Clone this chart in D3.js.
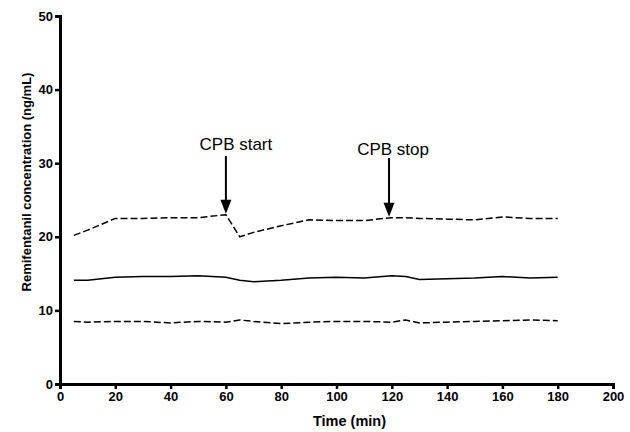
<!DOCTYPE html>
<html>
<head>
<meta charset="utf-8">
<script src="https://cdnjs.cloudflare.com/ajax/libs/d3/7.8.5/d3.min.js"></script>
<style>
  body { margin: 0; background: #fff; }
  text { font-family: "Liberation Sans", Arial, sans-serif; }
</style>
</head>
<body>
<div id="chart"></div>
<script>
// sampling times (min)
var times = [5, 10, 20, 30, 40, 50, 60, 65, 70, 80, 90, 100, 110, 120, 125, 130, 140, 150, 160, 170, 180];
// upper dashed, median solid, lower dashed (ng/mL)
var upper  = [20.2, 20.9, 22.5, 22.5, 22.6, 22.6, 23.0, 20.0, 20.6, 21.5, 22.3, 22.2, 22.2, 22.6, 22.6, 22.5, 22.4, 22.3, 22.7, 22.5, 22.5];
var median = [14.1, 14.1, 14.5, 14.6, 14.6, 14.7, 14.5, 14.1, 13.9, 14.1, 14.4, 14.5, 14.4, 14.7, 14.6, 14.2, 14.3, 14.4, 14.6, 14.4, 14.5];
var lower  = [8.5, 8.4, 8.5, 8.5, 8.3, 8.5, 8.4, 8.7, 8.5, 8.2, 8.4, 8.5, 8.5, 8.4, 8.7, 8.3, 8.4, 8.5, 8.6, 8.7, 8.6];
var xTicks = [0, 20, 40, 60, 80, 100, 120, 140, 160, 180, 200];
var yTicks = [0, 10, 20, 30, 40, 50];
var events = [{label: "CPB start", t: 60, top: 156, textY: 150, dx: 10},
              {label: "CPB stop",  t: 119, top: 158, textY: 155, dx: 4}];

var margin = {top: 16, right: 17, bottom: 48, left: 60},
    width = 630 - margin.left - margin.right,
    height = 432 - margin.top - margin.bottom;

var svg = d3.select("#chart").append("svg")
    .attr("width", 630).attr("height", 432)
  .append("g")
    .attr("transform", "translate(" + margin.left + "," + margin.top + ")");

var x = d3.scaleLinear().domain([0, 200]).range([0, width]);
var y = d3.scaleLinear().domain([0, 50]).range([height, 0]);

// lines
var line = d3.line().x((d, i) => x(times[i])).y(d => y(d));
[[upper, "7,3"], [median, null], [lower, "7,3"]].forEach(s => {
  svg.append("path")
    .datum(s[0])
    .attr("d", line)
    .attr("fill", "none")
    .attr("stroke", "#000")
    .attr("stroke-width", 1.5)
    .attr("stroke-dasharray", s[1]);
});

// axes
var xAxis = svg.append("g")
    .attr("transform", "translate(0," + height + ")")
    .call(d3.axisBottom(x).tickValues(xTicks).tickSize(5).tickPadding(3));
var yAxis = svg.append("g")
    .call(d3.axisLeft(y).tickValues(yTicks).tickSize(5).tickPadding(2));
[xAxis, yAxis].forEach(a => {
  a.select(".domain").attr("stroke-width", 3);
  a.selectAll(".tick line").attr("stroke-width", 2.5);
  a.selectAll("text").attr("font-size", 13).attr("font-weight", "bold")
    .attr("font-family", "'Liberation Sans', Arial, sans-serif").attr("fill", "#000");
});

svg.append("text")
  .attr("x", width / 2 + 13).attr("y", height + 42)
  .attr("text-anchor", "middle")
  .attr("font-size", 14.5).attr("font-weight", "bold")
  .text("Time (min)");

svg.append("text")
  .attr("transform", "translate(-29," + (height / 2 - 18) + ") rotate(-90)")
  .attr("text-anchor", "middle")
  .attr("font-size", 13).attr("font-weight", "bold")
  .text("Remifentanil concentration (ng/mL)");

// event arrows
events.forEach(e => {
  var i = times.indexOf(e.t);
  var val = i >= 0 ? upper[i] : 22.6;
  var tipY = y(val) - 1;
  var cx = x(e.t);
  var topY = e.top - margin.top;
  svg.append("line")
    .attr("x1", cx).attr("x2", cx)
    .attr("y1", topY).attr("y2", tipY - 12)
    .attr("stroke", "#000").attr("stroke-width", 2);
  svg.append("path")
    .attr("d", "M" + (cx - 5.5) + "," + (tipY - 14) + "L" + (cx + 5.5) + "," + (tipY - 14) + "L" + cx + "," + tipY + "Z")
    .attr("fill", "#000");
  svg.append("text")
    .attr("x", cx + e.dx).attr("y", e.textY - margin.top)
    .attr("text-anchor", "middle")
    .attr("font-size", 17)
    .text(e.label);
});
</script>
</body>
</html>
